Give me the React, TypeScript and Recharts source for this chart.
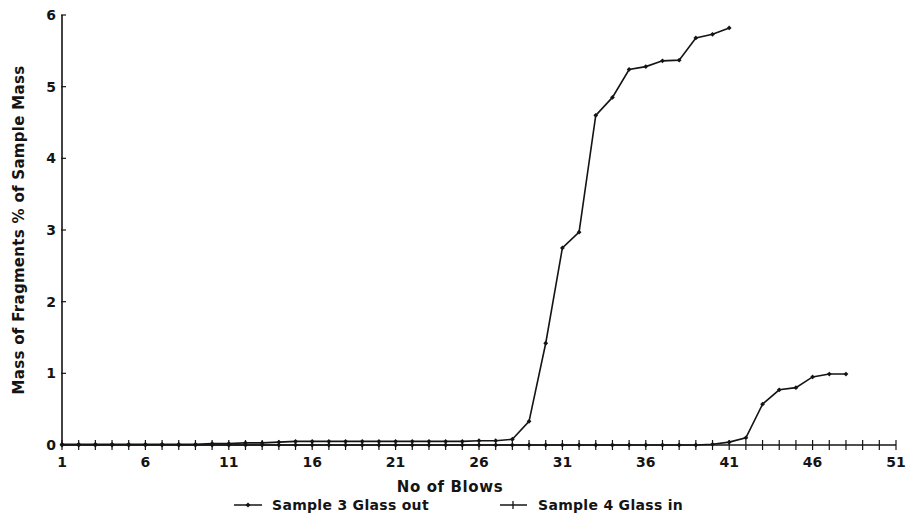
import React from 'react';
import { LineChart, Line, XAxis, YAxis, Legend, Label } from 'recharts';

// No of Blows (x) and mass of fragments, % of sample mass (y)
const blows = [
  1, 2, 3, 4, 5, 6, 7, 8, 9, 10, 11, 12, 13, 14, 15, 16, 17, 18, 19, 20, 21, 22, 23, 24,
  25, 26, 27, 28, 29, 30, 31, 32, 33, 34, 35, 36, 37, 38, 39, 40, 41, 42, 43, 44, 45, 46, 47, 48,
];
// Sample 3 Glass out, blows 1..41
const sample3 = [
  0.01, 0.01, 0.01, 0.01, 0.01, 0.01, 0.01, 0.01, 0.01, 0.02, 0.02, 0.03, 0.03, 0.04, 0.05, 0.05,
  0.05, 0.05, 0.05, 0.05, 0.05, 0.05, 0.05, 0.05, 0.05, 0.06, 0.06, 0.08, 0.33, 1.42, 2.75, 2.97,
  4.6, 4.85, 5.24, 5.28, 5.36, 5.37, 5.68, 5.73, 5.82,
];
// Sample 4 Glass in, blows 1..48
const sample4 = [
  0, 0, 0, 0, 0, 0, 0, 0, 0, 0, 0, 0, 0, 0, 0, 0, 0, 0, 0, 0, 0, 0, 0, 0, 0, 0, 0, 0, 0, 0, 0, 0,
  0, 0, 0, 0, 0, 0, 0, 0.01, 0.04, 0.1, 0.57, 0.77, 0.8, 0.95, 0.99, 0.99,
];
const xLabels = [1, 6, 11, 16, 21, 26, 31, 36, 41, 46, 51];
const yTicks = [0, 1, 2, 3, 4, 5, 6];

const INK = '#141414';
const FONT = '"DejaVu Sans", sans-serif';

const data = blows.map((b, i) => ({
  blow: b,
  s3: i < sample3.length ? sample3[i] : null,
  s4: sample4[i],
}));

// every blow gets a small cross tick on the axis, every fifth one a label
const xMinor = Array.from({ length: 51 }, (_, i) => i + 1);

function BlowTick(props: any) {
  const { x, y, payload } = props;
  const v = payload.value;
  return (
    <g>
      <line x1={x} x2={x} y1={y - 5} y2={y + 5} stroke={INK} strokeWidth={1.2} />
      {xLabels.includes(v) && (
        <text x={x} y={y + 22} textAnchor="middle" fill={INK} fontFamily={FONT} fontWeight="bold" fontSize={14}>
          {v}
        </text>
      )}
    </g>
  );
}

function MassTick(props: any) {
  const { x, y, payload } = props;
  return (
    <g>
      <line x1={x - 1} x2={x + 4} y1={y} y2={y} stroke={INK} strokeWidth={1.2} />
      <text x={x - 6} y={y} dy="0.36em" textAnchor="end" fill={INK} fontFamily={FONT} fontWeight="bold" fontSize={14}>
        {payload.value}
      </text>
    </g>
  );
}

function Diamond(props: any) {
  const { cx, cy, index } = props;
  if (cx == null || cy == null) return <g key={`e-${index}`} />;
  const r = 2.4;
  return (
    <path
      key={`d-${index}`}
      d={`M${cx},${cy - r}L${cx + r},${cy}L${cx},${cy + r}L${cx - r},${cy}Z`}
      fill={INK}
    />
  );
}

function LegendBox() {
  return (
    <svg width={906} height={22}>
      <g fontFamily={FONT} fontWeight="bold" fontSize={14} fill={INK} letterSpacing={0.3}>
        <line x1={234} x2={262} y1={10} y2={10} stroke={INK} strokeWidth={1.5} />
        <path d="M248,7.5L250.5,10L248,12.5L245.5,10Z" fill={INK} />
        <text x={272} y={15}>Sample 3 Glass out</text>
        <line x1={500} x2={527} y1={10} y2={10} stroke={INK} strokeWidth={1.5} />
        <line x1={513} x2={513} y1={6} y2={14} stroke={INK} strokeWidth={1.3} />
        <text x={538} y={15}>Sample 4 Glass in</text>
      </g>
    </svg>
  );
}

export default function App() {
  return (
    <div style={{ position: 'absolute', left: 0, top: 0, width: 906, height: 520, background: '#fff' }}>
      <LineChart width={906} height={520} data={data} margin={{ top: 15, right: 10, bottom: 0, left: 0 }}>
        <XAxis
          dataKey="blow"
          type="number"
          domain={[1, 51]}
          ticks={xMinor}
          interval={0}
          height={53}
          tickSize={0}
          tickMargin={0}
          tick={<BlowTick />}
          tickLine={false}
          axisLine={{ stroke: INK, strokeWidth: 1.6 }}
        >
          <Label
            content={() => (
              <text
                x={450}
                y={492}
                textAnchor="middle"
                fill={INK}
                fontFamily={FONT}
                fontWeight="bold"
                fontSize={15}
                letterSpacing={0.6}
              >
                No of Blows
              </text>
            )}
          />
        </XAxis>
        <YAxis
          type="number"
          domain={[0, 6]}
          ticks={yTicks}
          interval={0}
          width={62}
          tickSize={0}
          tickMargin={0}
          tick={<MassTick />}
          tickLine={false}
          axisLine={{ stroke: INK, strokeWidth: 1.6 }}
        >
          <Label
            content={() => (
              <text
                x={19}
                y={230}
                transform="rotate(-90 19 230)"
                textAnchor="middle"
                fill={INK}
                fontFamily={FONT}
                fontWeight="bold"
                fontSize={15}
                letterSpacing={0.3}
                dy="0.35em"
              >
                Mass of Fragments % of Sample Mass
              </text>
            )}
          />
        </YAxis>
        <Legend
          content={() => <LegendBox />}
          wrapperStyle={{ position: 'absolute', left: 0, top: 495, width: 906, height: 22 }}
        />
        <Line
          type="linear"
          dataKey="s3"
          name="Sample 3 Glass out"
          stroke={INK}
          strokeWidth={1.6}
          dot={Diamond}
          activeDot={false}
          isAnimationActive={false}
        />
        <Line
          type="linear"
          dataKey="s4"
          name="Sample 4 Glass in"
          stroke={INK}
          strokeWidth={1.6}
          dot={Diamond}
          activeDot={false}
          isAnimationActive={false}
        />
      </LineChart>
    </div>
  );
}
